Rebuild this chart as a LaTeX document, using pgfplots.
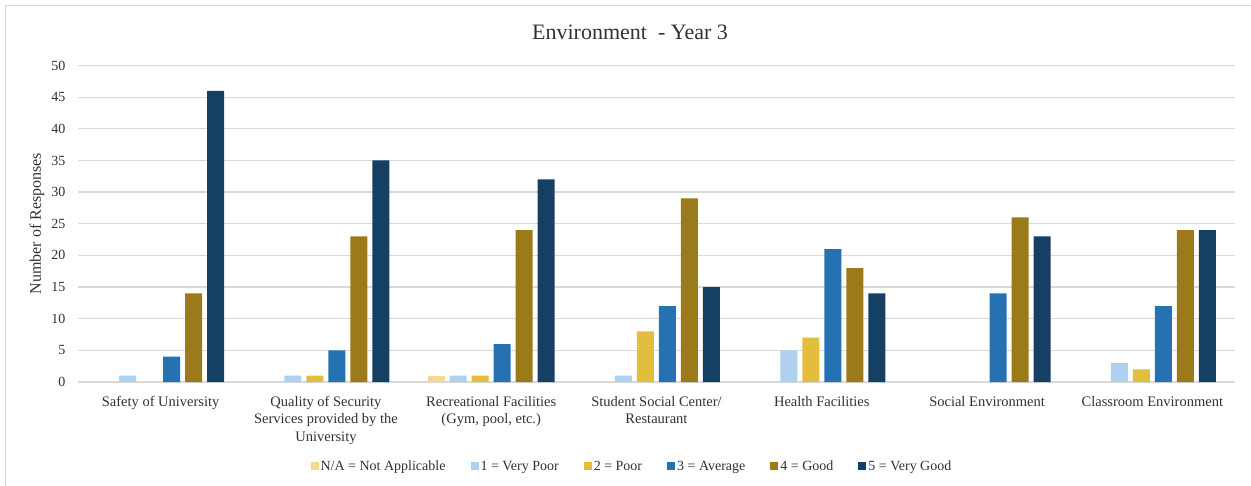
\documentclass[border=0pt]{standalone}
\usepackage{pgfplots}
\usepackage{pgfplotstable}
\pgfplotsset{compat=1.18}
\usepackage{fontspec}
\setmainfont{Liberation Serif}

\definecolor{cNA}{RGB}{241,219,143}
\definecolor{cOne}{RGB}{175,208,238}
\definecolor{cTwo}{RGB}{227,190,62}
\definecolor{cThree}{RGB}{37,113,177}
\definecolor{cFour}{RGB}{155,123,25}
\definecolor{cFive}{RGB}{21,63,99}
\definecolor{gridgray}{RGB}{217,217,217}
\definecolor{txt}{RGB}{50,50,50}

% Responses per rating, one row per environment item
\pgfplotstableread{
idx na one two three four five
0   0  1   0   4     14   46
1   0  1   1   5     23   35
2   1  1   1   6     24   32
3   0  1   8   12    29   15
4   0  5   7   21    18   14
5   0  0   0   14    26   23
6   0  3   2   12    24   24
}\envdata

\begin{document}
\begin{tikzpicture}[x=1pt,y=1pt]
\begin{axis}[
  at={(0,0)}, anchor=south west,
  scale only axis, width=1157pt, height=316.5pt,
  ybar=5pt, bar width=17pt,
  xmin=-0.5, xmax=6.5, ymin=0, ymax=50,
  % empty ratings leave no bar at all
  y filter/.expression={y==0 ? nan : y},
  unbounded coords=discard,
  xtick={0,...,6},
  xticklabels={Safety of University,
    {Quality of Security\\Services provided by the\\University},
    {Recreational Facilities\\(Gym, pool, etc.)},
    {Student Social Center/\\Restaurant},
    Health Facilities, Social Environment, Classroom Environment},
  xticklabel style={align=center, font=\fontsize{14.5}{17.5}\selectfont, text=txt, yshift=-10.5pt},
  ytick={0,5,...,50},
  yticklabel style={font=\fontsize{14}{16}\selectfont, text=txt, xshift=-9pt},
  /pgf/number format/assume math mode=true,
  major tick length=0pt,
  ymajorgrids, major grid style={gridgray, line width=1.3pt},
  axis x line*=bottom, axis y line*=left,
  x axis line style={gridgray, line width=1.3pt, -},
  y axis line style={draw=none},
  title={Environment\ \ - Year 3},
  title style={at={(axis description cs:0.5,1)}, anchor=center, yshift=27pt, xshift=-26.5pt,
    font=\fontsize{22}{26}\selectfont, text=txt},
  ylabel={Number of Responses},
  ylabel style={at={(axis description cs:0,0.5)}, anchor=center, rotate=0, yshift=41pt,
    font=\fontsize{16}{18}\selectfont, text=txt},
  legend columns=6,
  legend style={at={(axis description cs:0.4788,-0.266)}, anchor=center, draw=none,
    font=\fontsize{14}{16}\selectfont, text=txt,
    /tikz/every even column/.append style={column sep=23pt}},
  legend image code/.code={\fill[#1] (0pt,-4pt) rectangle (8pt,4pt);},
]
\addplot[fill=cNA, draw=none] table[x=idx, y=na] {\envdata};
\addplot[fill=cOne, draw=none] table[x=idx, y=one] {\envdata};
\addplot[fill=cTwo, draw=none] table[x=idx, y=two] {\envdata};
\addplot[fill=cThree, draw=none] table[x=idx, y=three] {\envdata};
\addplot[fill=cFour, draw=none] table[x=idx, y=four] {\envdata};
\addplot[fill=cFive, draw=none] table[x=idx, y=five] {\envdata};
\legend{N/A = Not Applicable, 1 = Very Poor, 2 = Poor, 3 = Average, 4 = Good, 5 = Very Good}
\end{axis}
\draw[gridgray, line width=1pt] (-72,-110) -- (-72,376) -- (1180,376);
\pgfresetboundingbox
\path[use as bounding box] (-78,-103) rectangle (1173,382);
\end{tikzpicture}
\end{document}
